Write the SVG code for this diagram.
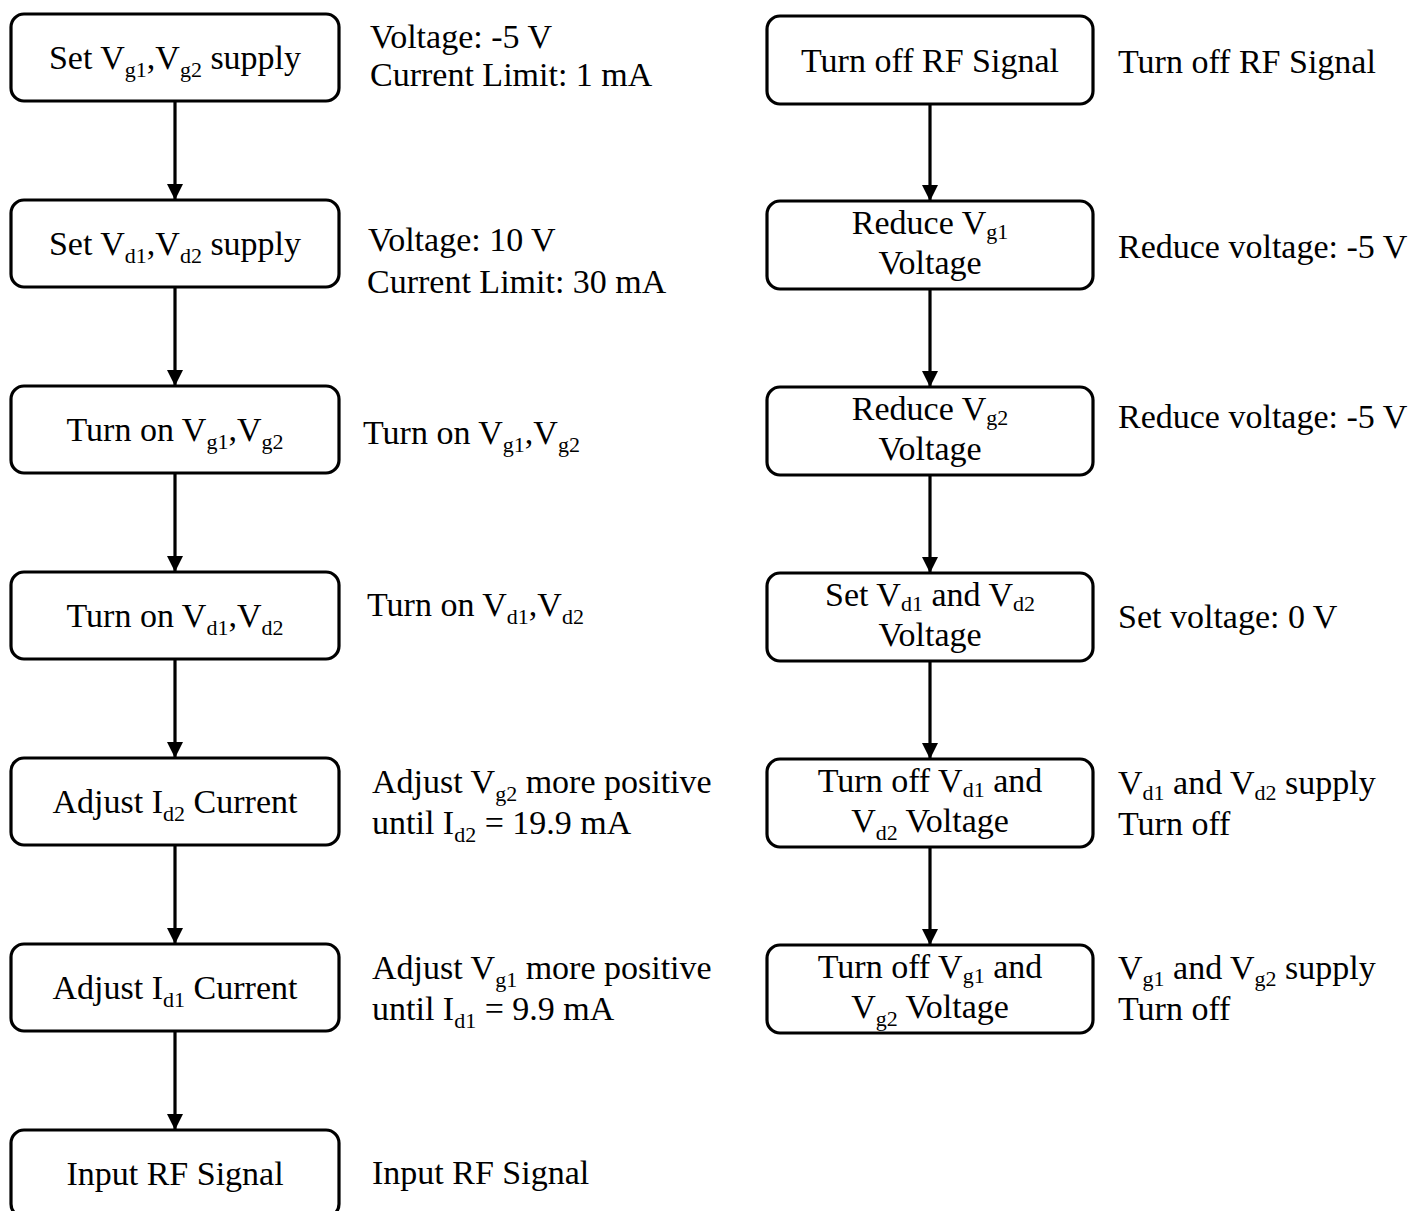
<svg xmlns="http://www.w3.org/2000/svg" width="1414" height="1211" viewBox="0 0 1414 1211">
<style>
  .box { fill: #fff; stroke: #000; stroke-width: 3.2; }
  .t { font-family: "Liberation Serif", "Times New Roman", serif; font-size: 34px; fill: #000; }
  .c { text-anchor: middle; }
  .s { font-size: 22px; }
  .edge { stroke: #000; stroke-width: 3.2; fill: none; marker-end: url(#ah); }
</style>
<defs>
  <marker id="ah" markerWidth="16" markerHeight="16" refX="16" refY="8" orient="auto" markerUnits="userSpaceOnUse">
    <path d="M0,0 L16,8 L0,16 Z" fill="#000"/>
  </marker>
</defs>

<g id="connectors">
  <line class="edge" x1="175" y1="101" x2="175" y2="200"/>
  <line class="edge" x1="175" y1="287" x2="175" y2="386"/>
  <line class="edge" x1="175" y1="473" x2="175" y2="572"/>
  <line class="edge" x1="175" y1="659" x2="175" y2="758"/>
  <line class="edge" x1="175" y1="845" x2="175" y2="944"/>
  <line class="edge" x1="175" y1="1031" x2="175" y2="1130"/>
  <line class="edge" x1="930" y1="104" x2="930" y2="201"/>
  <line class="edge" x1="930" y1="289" x2="930" y2="387"/>
  <line class="edge" x1="930" y1="475" x2="930" y2="573"/>
  <line class="edge" x1="930" y1="661" x2="930" y2="759"/>
  <line class="edge" x1="930" y1="847" x2="930" y2="945"/>
</g>

<g id="n1">
  <rect class="box" x="11" y="14" width="328" height="87" rx="13"/>
  <text class="t c" x="175" y="69">Set V<tspan class="s" dy="8">g1</tspan><tspan dy="-8">,V</tspan><tspan class="s" dy="8">g2</tspan><tspan dy="-8"> supply</tspan></text>
</g>
<g id="n2">
  <rect class="box" x="11" y="200" width="328" height="87" rx="13"/>
  <text class="t c" x="175" y="255">Set V<tspan class="s" dy="8">d1</tspan><tspan dy="-8">,V</tspan><tspan class="s" dy="8">d2</tspan><tspan dy="-8"> supply</tspan></text>
</g>
<g id="n3">
  <rect class="box" x="11" y="386" width="328" height="87" rx="13"/>
  <text class="t c" x="175" y="441">Turn on V<tspan class="s" dy="8">g1</tspan><tspan dy="-8">,V</tspan><tspan class="s" dy="8">g2</tspan></text>
</g>
<g id="n4">
  <rect class="box" x="11" y="572" width="328" height="87" rx="13"/>
  <text class="t c" x="175" y="627">Turn on V<tspan class="s" dy="8">d1</tspan><tspan dy="-8">,V</tspan><tspan class="s" dy="8">d2</tspan></text>
</g>
<g id="n5">
  <rect class="box" x="11" y="758" width="328" height="87" rx="13"/>
  <text class="t c" x="175" y="813">Adjust I<tspan class="s" dy="8">d2</tspan><tspan dy="-8"> Current</tspan></text>
</g>
<g id="n6">
  <rect class="box" x="11" y="944" width="328" height="87" rx="13"/>
  <text class="t c" x="175" y="999">Adjust I<tspan class="s" dy="8">d1</tspan><tspan dy="-8"> Current</tspan></text>
</g>
<g id="n7">
  <rect class="box" x="11" y="1130" width="328" height="87" rx="13"/>
  <text class="t c" x="175" y="1185">Input RF Signal</text>
</g>

<g id="r1">
  <rect class="box" x="767" y="16" width="326" height="88" rx="13"/>
  <text class="t c" x="930" y="72">Turn off RF Signal</text>
</g>
<g id="r2">
  <rect class="box" x="767" y="201" width="326" height="88" rx="13"/>
  <text class="t c" x="930" y="234">Reduce V<tspan class="s" dy="5">g1</tspan></text>
  <text class="t c" x="930" y="274">Voltage</text>
</g>
<g id="r3">
  <rect class="box" x="767" y="387" width="326" height="88" rx="13"/>
  <text class="t c" x="930" y="420">Reduce V<tspan class="s" dy="5">g2</tspan></text>
  <text class="t c" x="930" y="460">Voltage</text>
</g>
<g id="r4">
  <rect class="box" x="767" y="573" width="326" height="88" rx="13"/>
  <text class="t c" x="930" y="606">Set V<tspan class="s" dy="5">d1</tspan><tspan dy="-5"> and V</tspan><tspan class="s" dy="5">d2</tspan></text>
  <text class="t c" x="930" y="646">Voltage</text>
</g>
<g id="r5">
  <rect class="box" x="767" y="759" width="326" height="88" rx="13"/>
  <text class="t c" x="930" y="792">Turn off V<tspan class="s" dy="5">d1</tspan><tspan dy="-5"> and</tspan></text>
  <text class="t c" x="930" y="832">V<tspan class="s" dy="8">d2</tspan><tspan dy="-8"> Voltage</tspan></text>
</g>
<g id="r6">
  <rect class="box" x="767" y="945" width="326" height="88" rx="13"/>
  <text class="t c" x="930" y="978">Turn off V<tspan class="s" dy="5">g1</tspan><tspan dy="-5"> and</tspan></text>
  <text class="t c" x="930" y="1018">V<tspan class="s" dy="8">g2</tspan><tspan dy="-8"> Voltage</tspan></text>
</g>

<g id="notes-left">
  <text class="t" x="370" y="48">Voltage: -5 V</text>
  <text class="t" x="370" y="86">Current Limit: 1 mA</text>
  <text class="t" x="368" y="251">Voltage: 10 V</text>
  <text class="t" x="367" y="293">Current Limit: 30 mA</text>
  <text class="t" x="363" y="444">Turn on V<tspan class="s" dy="8">g1</tspan><tspan dy="-8">,V</tspan><tspan class="s" dy="8">g2</tspan></text>
  <text class="t" x="367" y="616">Turn on V<tspan class="s" dy="8">d1</tspan><tspan dy="-8">,V</tspan><tspan class="s" dy="8">d2</tspan></text>
  <text class="t" x="372" y="793">Adjust V<tspan class="s" dy="8">g2</tspan><tspan dy="-8"> more positive</tspan></text>
  <text class="t" x="372" y="834">until I<tspan class="s" dy="8">d2</tspan><tspan dy="-8"> = 19.9 mA</tspan></text>
  <text class="t" x="372" y="979">Adjust V<tspan class="s" dy="8">g1</tspan><tspan dy="-8"> more positive</tspan></text>
  <text class="t" x="372" y="1020">until I<tspan class="s" dy="8">d1</tspan><tspan dy="-8"> = 9.9 mA</tspan></text>
  <text class="t" x="372" y="1184">Input RF Signal</text>
</g>

<g id="notes-right">
  <text class="t" x="1118" y="73">Turn off RF Signal</text>
  <text class="t" x="1118" y="258">Reduce voltage: -5 V</text>
  <text class="t" x="1118" y="428">Reduce voltage: -5 V</text>
  <text class="t" x="1118" y="628">Set voltage: 0 V</text>
  <text class="t" x="1118" y="794">V<tspan class="s" dy="6">d1</tspan><tspan dy="-6"> and V</tspan><tspan class="s" dy="6">d2</tspan><tspan dy="-6"> supply</tspan></text>
  <text class="t" x="1118" y="835">Turn off</text>
  <text class="t" x="1118" y="979">V<tspan class="s" dy="7">g1</tspan><tspan dy="-7"> and V</tspan><tspan class="s" dy="7">g2</tspan><tspan dy="-7"> supply</tspan></text>
  <text class="t" x="1118" y="1020">Turn off</text>
</g>
</svg>
